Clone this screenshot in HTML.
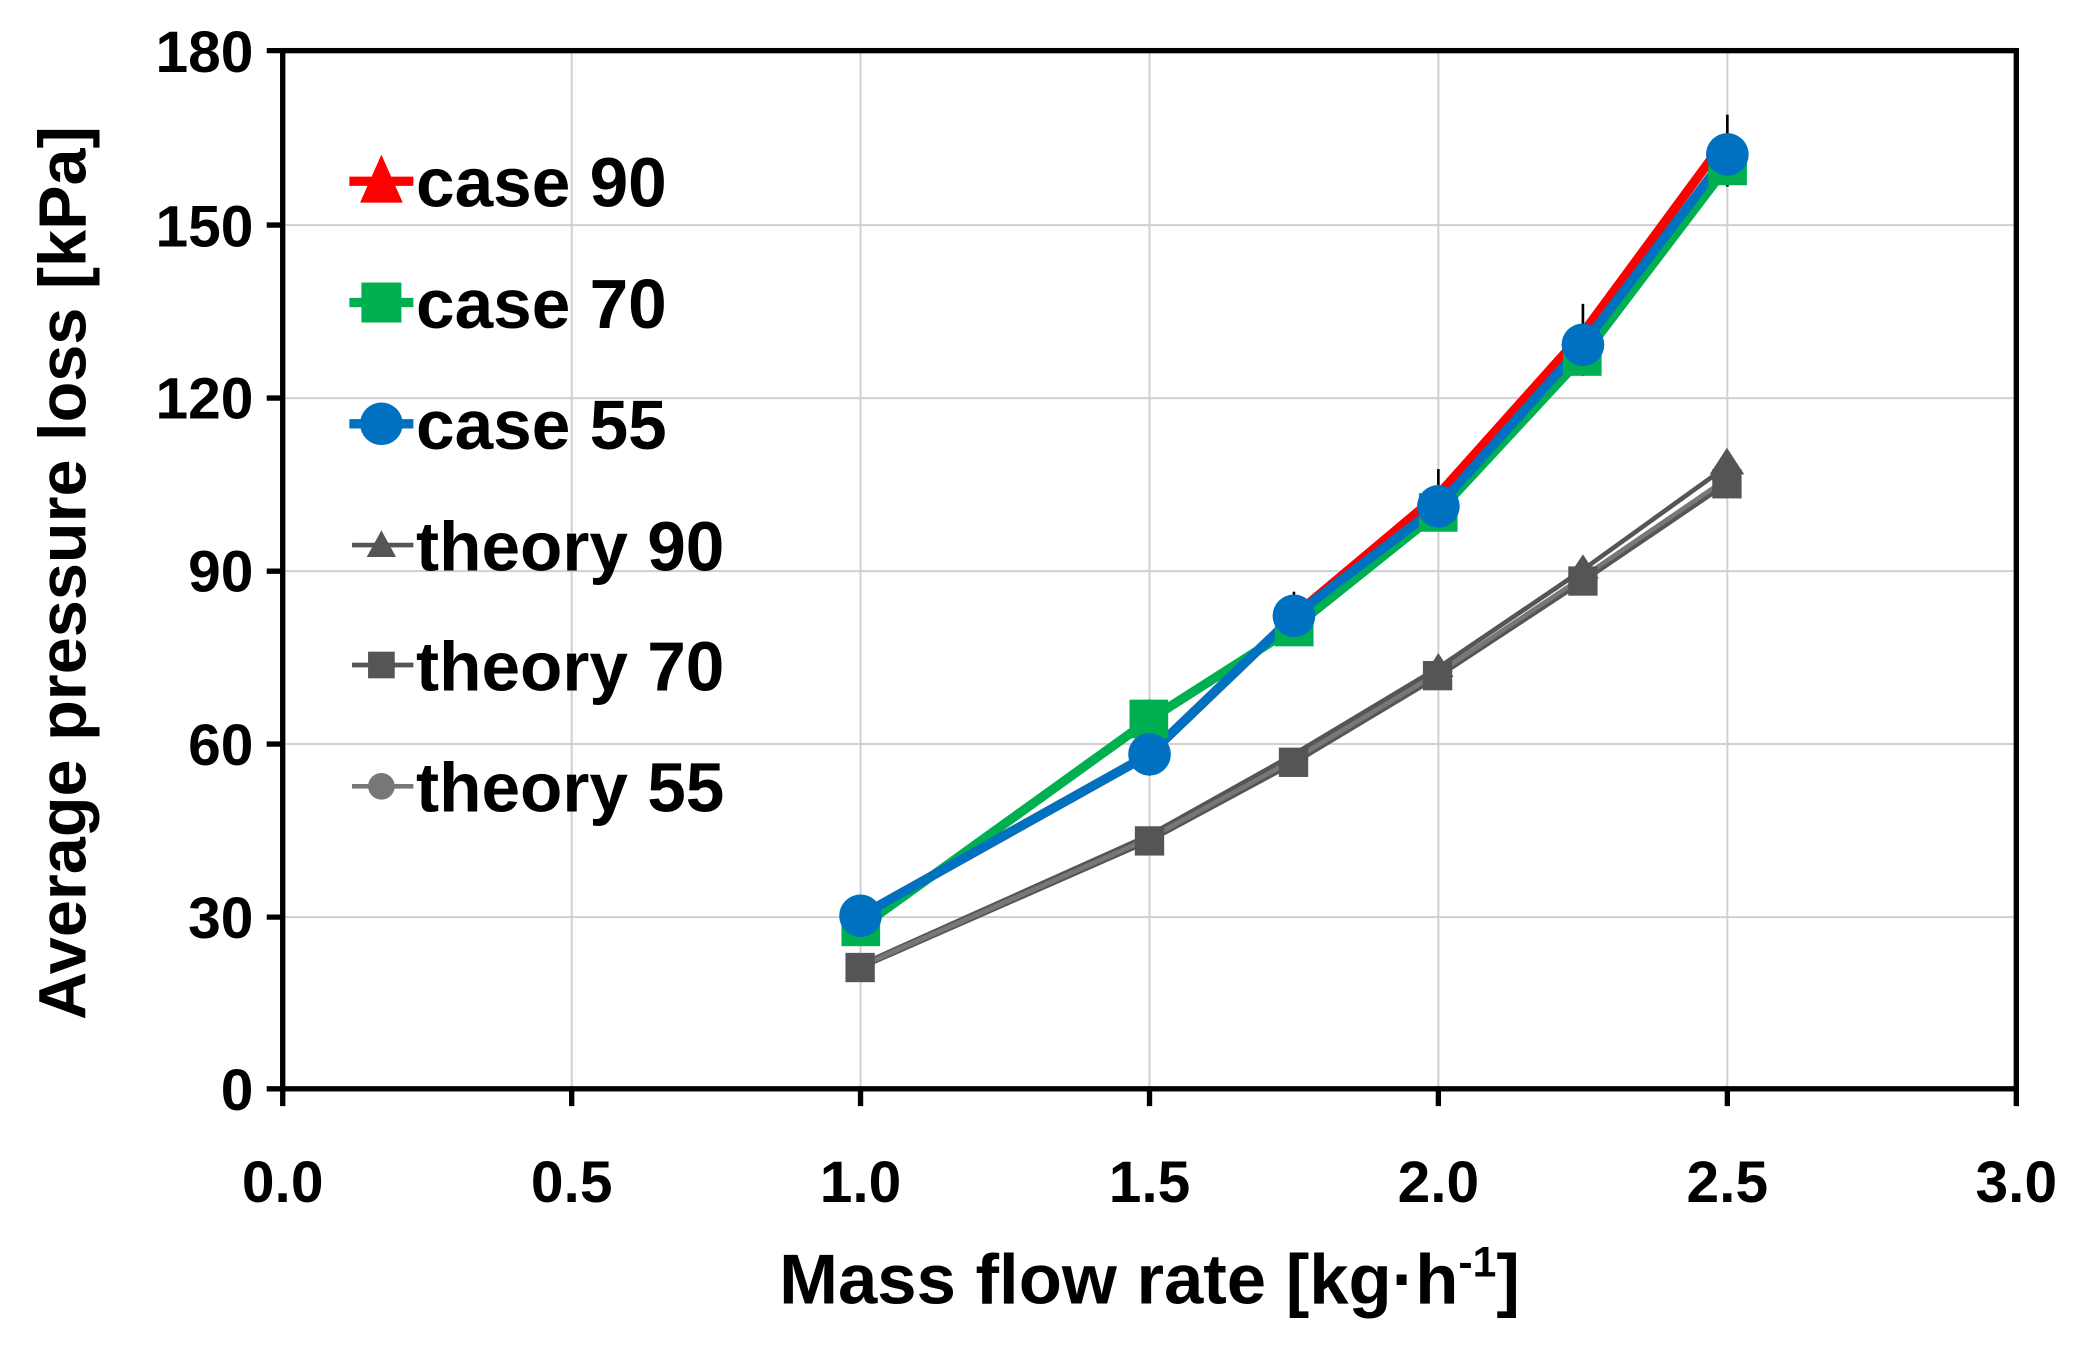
<!DOCTYPE html>
<html><head><style>html,body{margin:0;padding:0;background:#fff}svg{display:block}</style></head>
<body>
<svg width="2091" height="1346" viewBox="0 0 1568 1010" preserveAspectRatio="none" xmlns="http://www.w3.org/2000/svg" font-family="Liberation Sans, sans-serif" font-weight="bold">
<g stroke="#d0d0d0" stroke-width="1.5">
<line x1="428.7" y1="38" x2="428.7" y2="817"/><line x1="645.3" y1="38" x2="645.3" y2="817"/><line x1="862" y1="38" x2="862" y2="817"/><line x1="1078.6" y1="38" x2="1078.6" y2="817"/><line x1="1295.3" y1="38" x2="1295.3" y2="817"/>
<line x1="212" y1="168.9" x2="1512" y2="168.9"/><line x1="212" y1="298.7" x2="1512" y2="298.7"/><line x1="212" y1="428.6" x2="1512" y2="428.6"/><line x1="212" y1="558.3" x2="1512" y2="558.3"/><line x1="212" y1="688.2" x2="1512" y2="688.2"/>
</g>
<rect x="212" y="38" width="1300" height="779" fill="none" stroke="#000" stroke-width="4"/>
<g stroke="#000" stroke-width="4">
<line x1="200" y1="38" x2="212" y2="38"/><line x1="200" y1="168.9" x2="212" y2="168.9"/><line x1="200" y1="298.7" x2="212" y2="298.7"/><line x1="200" y1="428.6" x2="212" y2="428.6"/><line x1="200" y1="558.3" x2="212" y2="558.3"/><line x1="200" y1="688.2" x2="212" y2="688.2"/><line x1="200" y1="817" x2="212" y2="817"/>
<line x1="212" y1="817" x2="212" y2="830"/><line x1="428.7" y1="817" x2="428.7" y2="830"/><line x1="645.3" y1="817" x2="645.3" y2="830"/><line x1="862" y1="817" x2="862" y2="830"/><line x1="1078.6" y1="817" x2="1078.6" y2="830"/><line x1="1295.3" y1="817" x2="1295.3" y2="830"/><line x1="1512" y1="817" x2="1512" y2="830"/>
</g>
<g font-size="44" text-anchor="end">
<text x="190" y="54">180</text><text x="190" y="185">150</text><text x="190" y="314">120</text><text x="190" y="444">90</text><text x="190" y="574">60</text><text x="190" y="704">30</text><text x="190" y="833">0</text>
</g>
<g font-size="44" text-anchor="middle">
<text x="212" y="902">0.0</text><text x="428.7" y="902">0.5</text><text x="645.3" y="902">1.0</text><text x="862" y="902">1.5</text><text x="1078.6" y="902">2.0</text><text x="1295.3" y="902">2.5</text><text x="1512" y="902">3.0</text>
</g>
<text x="862" y="978" font-size="53" text-anchor="middle">Mass flow rate [kg·h<tspan font-size="32" dy="-20">-1</tspan><tspan dy="20">]</tspan></text>
<text transform="translate(64,430) rotate(-90)" font-size="50" text-anchor="middle">Average pressure loss [kPa]</text>
<g stroke="#000" stroke-width="2">
<line x1="645.3" y1="672" x2="645.3" y2="700"/><line x1="862" y1="525" x2="862" y2="582"/><line x1="970.3" y1="444" x2="970.3" y2="484"/><line x1="1078.6" y1="352" x2="1078.6" y2="398"/><line x1="1187" y1="228" x2="1187" y2="282"/><line x1="1295.3" y1="86" x2="1295.3" y2="140"/>
</g>
<polyline points="645.3,723.9 862,626.6 970.3,566 1078.6,501 1187,427.5 1295.3,349.6" fill="none" stroke="#555" stroke-width="3.5"/>
<polyline points="645.3,726.1 862,630.9 970.3,572.5 1078.6,507.5 1187,436.1 1295.3,362.6" fill="none" stroke="#555" stroke-width="3.5"/>
<polyline points="645.3,725 862,629 970.3,570 1078.6,505 1187,433 1295.3,359" fill="none" stroke="#777" stroke-width="3.5"/>
<g fill="#555">
<rect x="634" y="715" width="22" height="22"/><rect x="851" y="620" width="22" height="22"/><rect x="959" y="561" width="22" height="22"/><rect x="1067" y="496" width="22" height="22"/><rect x="1176" y="425" width="22" height="22"/><rect x="1284" y="352" width="22" height="22"/>
<polygon points="1295,336 1308,356 1282,356"/><polygon points="1187,416 1199,434 1175,434"/><polygon points="1078.6,490 1090,508 1067,508"/>
</g>
<polyline points="645.3,687.2 862,566 970.3,462.1 1078.6,371.2 1187,250 1295.3,102.9" fill="none" stroke="#ff0000" stroke-width="7"/>
<polyline points="645.3,695.8 862,540 970.3,470.8 1078.6,384.2 1187,267.3 1295.3,124.5" fill="none" stroke="#00b050" stroke-width="7"/>
<polyline points="645.3,687.2 862,566 970.3,462.1 1078.6,379.9 1187,258.7 1295.3,115.9" fill="none" stroke="#0070c0" stroke-width="7"/>
<g fill="#00b050">
<rect x="631" y="681" width="29" height="29"/><rect x="847" y="525" width="29" height="29"/><rect x="956" y="456" width="29" height="29"/><rect x="1064" y="370" width="29" height="29"/><rect x="1172" y="253" width="29" height="29"/><rect x="1281" y="110" width="29" height="29"/>
</g>
<g fill="#0070c0">
<circle cx="645.3" cy="687.2" r="16"/><circle cx="862" cy="566" r="16"/><circle cx="970.3" cy="462.1" r="16"/><circle cx="1078.6" cy="379.9" r="16"/><circle cx="1187" cy="258.7" r="16"/><circle cx="1295.3" cy="115.9" r="16"/>
</g>
<g font-size="52">
<line x1="262" y1="136" x2="310" y2="136" stroke="#ff0000" stroke-width="7"/><polygon points="286,116 302,152 270,152" fill="#ff0000"/>
<text x="312" y="155">case 90</text>
<line x1="262" y1="227" x2="310" y2="227" stroke="#00b050" stroke-width="7"/><rect x="271" y="212" width="30" height="30" fill="#00b050"/>
<text x="312" y="246">case 70</text>
<line x1="262" y1="318" x2="310" y2="318" stroke="#0070c0" stroke-width="7"/><circle cx="286" cy="318" r="16" fill="#0070c0"/>
<text x="312" y="337">case 55</text>
<line x1="264" y1="409" x2="310" y2="409" stroke="#555" stroke-width="3.5"/><polygon points="286,398 297,418 275,418" fill="#555"/>
<text x="312" y="428">theory 90</text>
<line x1="264" y1="499" x2="310" y2="499" stroke="#555" stroke-width="3.5"/><rect x="276" y="489" width="20" height="20" fill="#555"/>
<text x="312" y="518">theory 70</text>
<line x1="264" y1="590" x2="310" y2="590" stroke="#777" stroke-width="3.5"/><circle cx="286" cy="590" r="10" fill="#777"/>
<text x="312" y="609">theory 55</text>
</g>
</svg>
</body></html>
